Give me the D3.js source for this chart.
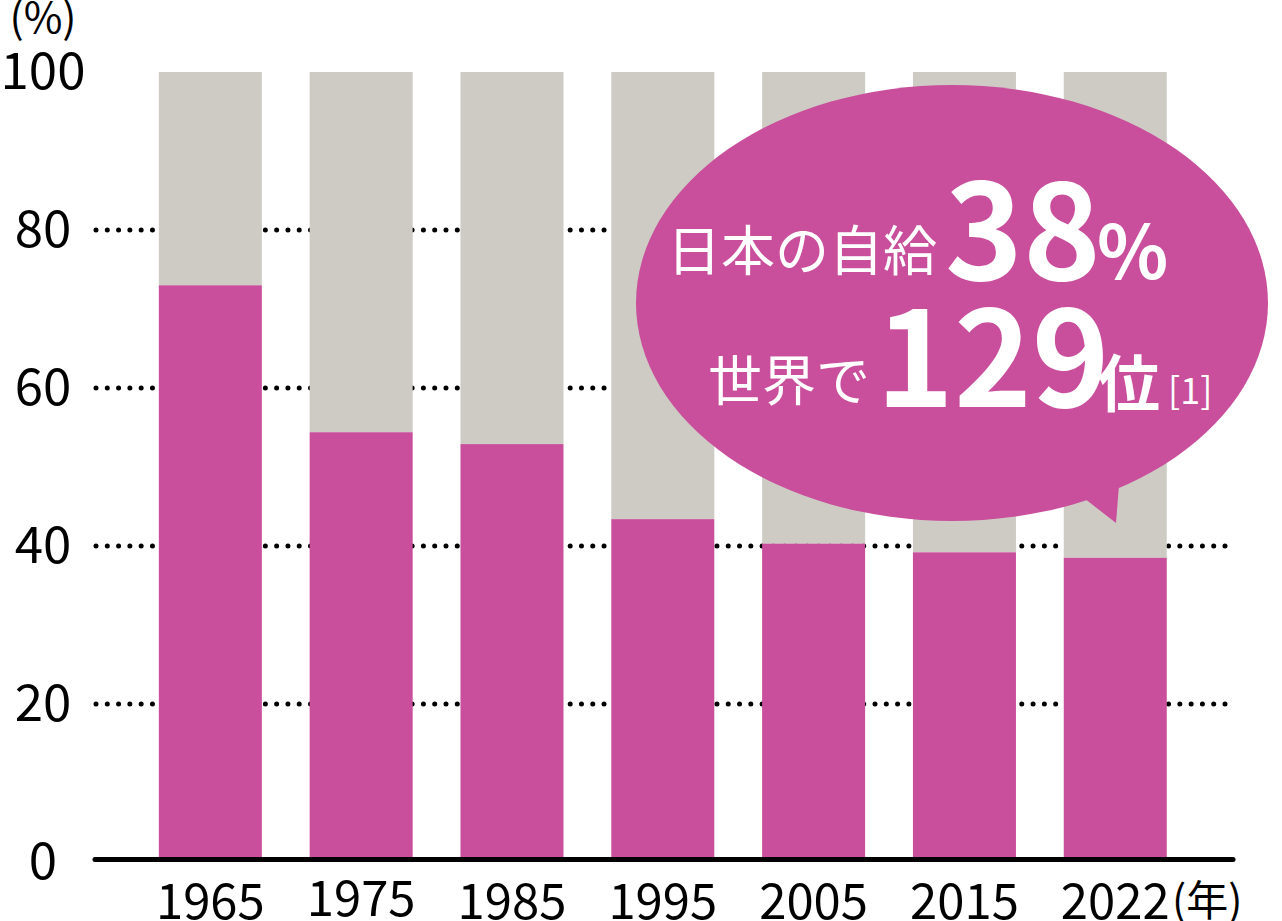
<!DOCTYPE html>
<html>
<head>
<meta charset="utf-8">
<title>食料自給率の推移</title>
<script src="https://cdn.jsdelivr.net/npm/d3@7"></script>
<style>
  html, body { margin: 0; padding: 0; background: #fff; }
  svg { display: block; font-family: "Noto Sans CJK JP", "Noto Sans", sans-serif; }
</style>
</head>
<body>
<script>
// values (%)
var years = ["1965", "1975", "1985", "1995", "2005", "2015", "2022"];
var selfRate = [73, 54.4, 52.9, 43.4, 40.3, 39.2, 38.5];
var yTicks = [0, 20, 40, 60, 80, 100];
var gridTicks = [20, 40, 60, 80];

var pink = "#c94e9b";
var grey = "#cecbc4";

var w = 1282;
var h = 921;

var svg = d3.select("body")
	.append("svg")
	.attr("width", w)
	.attr("height", h);

var y = d3.scaleLinear().domain([0, 100]).range([862, 72]);
var x = d3.scaleBand()
	.domain(years)
	.range([135, 1190.6])
	.paddingInner(0.317)
	.paddingOuter(0.158);

// dotted grid
svg.append("g")
	.selectAll("line")
	.data(gridTicks)
	.join("line")
	.attr("x1", 96)
	.attr("x2", 1226)
	.attr("y1", function(d) { return y(d); })
	.attr("y2", function(d) { return y(d); })
	.attr("stroke", "#000")
	.attr("stroke-width", 5)
	.attr("stroke-linecap", "round")
	.attr("stroke-dasharray", "0 11.29");

var data = years.map(function(yr, i) { return { year: yr, v: selfRate[i] }; });

// rest (grey) on top, own share (pink) below
svg.append("g")
	.selectAll("rect")
	.data(data)
	.join("rect")
	.attr("x", function(d) { return x(d.year); })
	.attr("width", x.bandwidth())
	.attr("y", y(100))
	.attr("height", function(d) { return y(d.v) - y(100); })
	.attr("fill", grey);

svg.append("g")
	.selectAll("rect")
	.data(data)
	.join("rect")
	.attr("x", function(d) { return x(d.year); })
	.attr("width", x.bandwidth())
	.attr("y", function(d) { return y(d.v); })
	.attr("height", function(d) { return y(0) - y(d.v); })
	.attr("fill", pink);

// baseline
svg.append("line")
	.attr("x1", 95).attr("x2", 1233)
	.attr("y1", 859.5).attr("y2", 859.5)
	.attr("stroke", "#000")
	.attr("stroke-width", 5)
	.attr("stroke-linecap", "round");

// y axis
var gy = svg.append("g")
	.attr("transform", "translate(43,0)")
	.call(d3.axisLeft(y).tickValues(yTicks).tickSize(0).tickFormat(d3.format("d")));
gy.select(".domain").remove();
gy.attr("font-family", null).attr("font-size", 51);
gy.selectAll("text")
	.attr("x", 0)
	.attr("dy", "0.33em")
	.attr("text-anchor", "middle")
	.attr("fill", "#000");

svg.append("text")
	.attr("x", 43).attr("y", 33)
	.attr("text-anchor", "middle")
	.attr("font-size", 42)
	.text("(%)");

// x axis
var gx = svg.append("g")
	.attr("transform", "translate(0," + y(0) + ")")
	.call(d3.axisBottom(x).tickSize(0));
gx.select(".domain").remove();
gx.attr("font-family", null).attr("font-size", 49);
gx.selectAll("text")
	.attr("y", function(d) { return d === "1975" ? 54 : 57; })
	.attr("dy", null)
	.attr("fill", "#000");

svg.append("text")
	.attr("x", 1172).attr("y", 916)
	.attr("font-size", 42)
	.text("(年)");

// speech bubble
var bubble = svg.append("g");
bubble.append("ellipse")
	.attr("cx", 952).attr("cy", 303)
	.attr("rx", 316).attr("ry", 218)
	.attr("fill", pink);
bubble.append("polygon")
	.attr("points", "1080,495 1116,523 1119,485")
	.attr("fill", pink);

var t1 = bubble.append("text").attr("fill", "#fff");
t1.append("tspan").attr("x", 667).attr("y", 271).attr("font-size", 54).text("日本の自給");
t1.append("tspan").attr("x", 945).attr("y", 280).attr("font-size", 132).attr("font-weight", 700).text("38");
t1.append("tspan").attr("x", 1097).attr("y", 279).attr("font-size", 74).attr("font-weight", 700).text("%");

var t2 = bubble.append("text").attr("fill", "#fff");
t2.append("tspan").attr("x", 708).attr("y", 401).attr("font-size", 54).text("世界で");
t2.append("tspan").attr("x", 876).attr("y", 407).attr("font-size", 132).attr("font-weight", 700).text("129");
t2.append("tspan").attr("x", 1098).attr("y", 407).attr("font-size", 62).attr("font-weight", 700).text("位");
t2.append("tspan").attr("x", 1168).attr("y", 404).attr("font-size", 36).text("[1]");
</script>
</body>
</html>
